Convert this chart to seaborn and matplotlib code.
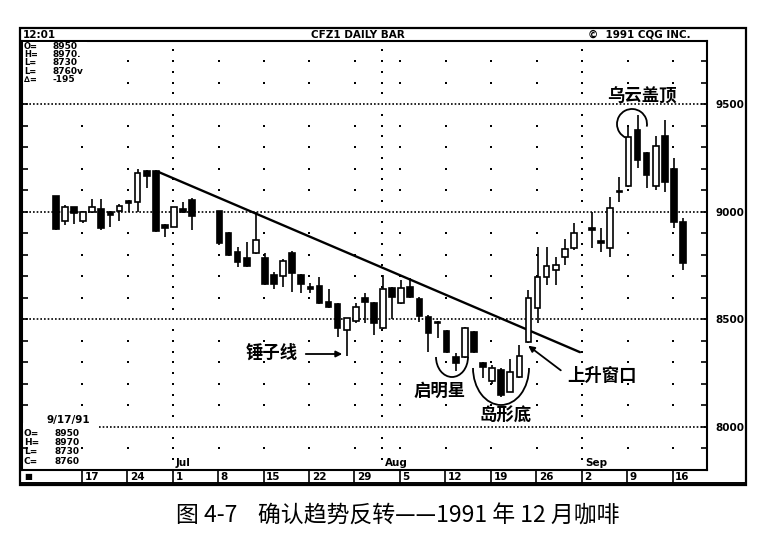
import numpy as np
import pandas as pd
import matplotlib
matplotlib.use("Agg")
import matplotlib.pyplot as plt
from matplotlib.patches import Arc, Rectangle
from matplotlib.ticker import MultipleLocator
from matplotlib.transforms import blended_transform_factory
import seaborn as sns

# trading-day slots, 0 = Mon 1 Jul 1991 (five slots a week, holidays left empty)
slot = list(range(-13, 3)) + list(range(5, 45)) + list(range(46, 57))
opens = [9073, 8958, 9020, 8958, 8997, 9011, 9000, 9003, 9051, 9047, 9191, 9191, 8938, 8930, 9012, 9054,
         9005, 8902, 8814, 8783, 8807, 8783, 8706, 8701, 8807, 8706, 8648, 8656, 8581, 8570, 8450,
         8493, 8597, 8577, 8458, 8644, 8574, 8648, 8593, 8512, 8488, 8447, 8326, 8326, 8442, 8298,
         8214, 8264, 8163, 8233, 8395, 8551, 8698, 8729, 8788, 8830,
         8923, 8864, 8830, 9098, 9121, 9380, 9272, 9119, 9352, 9197, 8950]
highs = [9075, 9030, 9022, 9005, 9059, 9058, 9003, 9035, 9055, 9199, 9195, 9195, 8942, 9023, 9044, 9065,
         9005, 8905, 8837, 8860, 9000, 8809, 8721, 8780, 8817, 8710, 8667, 8695, 8639, 8574, 8504,
         8574, 8620, 8580, 8706, 8648, 8682, 8690, 8602, 8519, 8491, 8450, 8341, 8465, 8445, 8302,
         8287, 8272, 8315, 8380, 8636, 8837, 8837, 8791, 8872, 8949,
         9000, 8923, 9070, 9163, 9399, 9450, 9279, 9352, 9426, 9248, 8970]
lows = [8915, 8938, 8943, 8946, 8995, 8915, 8930, 8958, 9000, 9000, 9109, 8905, 8881, 8928, 8993, 8915,
        8845, 8795, 8744, 8745, 8803, 8660, 8639, 8651, 8628, 8620, 8623, 8570, 8551, 8418, 8330,
        8481, 8481, 8427, 8455, 8500, 8570, 8598, 8488, 8349, 8411, 8345, 8260, 8320, 8345, 8225,
        8199, 8137, 8160, 8225, 8390, 8481, 8659, 8659, 8752, 8822,
        8830, 8814, 8788, 9047, 9116, 9202, 9109, 9101, 9093, 8923, 8730]
closes = [8918, 9023, 8995, 9000, 9023, 8923, 8985, 9026, 9039, 9181, 9166, 8910, 8926, 9020, 9000, 8980,
          8856, 8799, 8767, 8747, 8868, 8664, 8664, 8772, 8713, 8664, 8639, 8574, 8558, 8458, 8504,
          8555, 8579, 8481, 8639, 8605, 8644, 8602, 8515, 8437, 8481, 8349, 8295, 8458, 8349, 8276,
          8272, 8147, 8256, 8330, 8597, 8698, 8747, 8752, 8825, 8902,
          8915, 8853, 9016, 9090, 9349, 9240, 9171, 9305, 9140, 8953, 8760]

week_slot = [-10, -5, 0, 5, 10, 15, 20, 25, 30, 35, 40, 45, 50, 55]
week_label = ["17", "24", "1", "8", "15", "22", "29", "5", "12", "19", "26", "2", "9", "16"]
month_slot = [0, 23, 45]
month_label = ["Jul", "Aug", "Sep"]

trend_slot = [-1.76, 44.66]
trend_price = [9186, 8347]

price_ticks = [8000, 8500, 9000, 9500]

df = pd.DataFrame({"slot": slot, "open": opens, "high": highs, "low": lows, "close": closes})
df["up"] = df["close"] >= df["open"]
df["bottom"] = df[["open", "close"]].min(axis=1)
df["height"] = (df["close"] - df["open"]).abs().clip(lower=7)

sns.set_theme(style="white", rc={"axes.edgecolor": "black", "text.color": "black",
                                 "ytick.color": "black", "xtick.color": "black"})
plt.rcParams["font.family"] = ["DejaVu Sans"]
cjk = ["Noto Sans CJK SC", "DejaVu Sans"]

W, H = 778, 535
fig = plt.figure(figsize=(W / 100, H / 100), dpi=100)

# price panel, pixel box (22,41)-(707,470)
ax = fig.add_axes([22 / W, 1 - 470 / H, (707 - 22) / W, (470 - 41) / H], zorder=1)
# overlay in pixel units for frame, captions and notes
fr = fig.add_axes([0, 0, 1, 1], zorder=5)
fr.set_xlim(0, W)
fr.set_ylim(H, 0)
fr.axis("off")
fr.patch.set_alpha(0)

# grid: dense lines every 500, sparse dots on week columns, denser on month starts
for p in price_ticks:
    ax.axhline(p, color="black", lw=1.2, ls=(0, (1, 1.2)), zorder=1)
levels = np.arange(7900, 9800, 100)
levels = levels[levels % 500 != 0]
for s in week_slot:
    if s in month_slot:
        continue
    ax.scatter(np.full(len(levels), s - 0.1), levels, s=3, color="black", marker="s", lw=0, zorder=1)
half = np.arange(7850, 9800, 50)
half = half[half % 500 != 0]
for s in month_slot:
    ax.scatter(np.full(len(half), s - 0.1), half, s=3, color="black", marker="s", lw=0, zorder=1)

# candles
ax.vlines(df["slot"], df["low"], df["high"], color="black", lw=1.2, zorder=3)
ax.bar(df["slot"], df["height"], bottom=df["bottom"], width=0.62,
       color=np.where(df["up"], "white", "black"), edgecolor="black", lw=1.2, zorder=4)

sns.lineplot(x=trend_slot, y=trend_price, ax=ax, color="black", lw=1.7, zorder=2)

ax.set_xlim(-16.72, 58.64)
ax.set_ylim(7799, 9794)
ax.set_xticks([])
ax.set_yticks(price_ticks)
ax.set_yticklabels([str(p) for p in price_ticks], fontsize=7.5, fontweight="bold")
ax.yaxis.set_minor_locator(MultipleLocator(100))
ax.tick_params(axis="y", which="both", direction="in", left=True, right=True,
               labelleft=False, labelright=True, length=4, width=1.2, pad=6)
for sp in ax.spines.values():
    sp.set_linewidth(1.5)
    sp.set_color("black")
ax.set_facecolor("white")

# outer frame, date strip
fr.add_patch(Rectangle((20, 28), 726, 457, fill=False, lw=1.6, ec="black"))
fr.plot([20, 746], [483, 483], color="black", lw=1.4)
blend = blended_transform_factory(ax.transData, fr.transData)
for s, lab in zip(week_slot, week_label):
    fr.plot([s - 0.15, s - 0.15], [470, 483], color="black", lw=1.2, transform=blend)
    fr.text(s + 0.15, 477, lab, transform=blend, fontsize=7.5, fontweight="bold", va="center", ha="left")
fr.text(24, 477, "■", fontsize=6, va="center", ha="left")
for s, lab in zip(month_slot, month_label):
    fr.text(s + 0.2, 463, lab, transform=blend, fontsize=7.5, fontweight="bold", va="center", ha="left")

# title strip
fr.text(23, 34.5, "12:01", fontsize=7.5, fontweight="bold", va="center", ha="left")
fr.text(358, 34.5, "CFZ1 DAILY BAR", fontsize=7.5, fontweight="bold", va="center", ha="center")
fr.text(588, 34.5, "©  1991 CQG INC.", fontsize=7.5, fontweight="bold", va="center", ha="left")

# top-left quote box
fr.add_patch(Rectangle((23, 42), 64, 42, color="white", lw=0))
for y, lab, val in zip([46.5, 54.7, 62.9, 71.1, 79.3], ["O=", "H=", "L=", "L=", "∆="],
                       ["8950", "8970.", "8730", "8760v", "-195"]):
    fr.text(24, y, lab, fontsize=6, fontweight="bold", va="center", ha="left")
    fr.text(53, y, val, fontsize=6.5, fontweight="bold", va="center", ha="left")

# bottom-left quote box
fr.add_patch(Rectangle((23, 423), 74, 6, color="white", lw=0))
fr.text(47, 420.5, "9/17/91", fontsize=7.5, fontweight="bold", va="center", ha="left")
for y, lab, val in zip([433, 442.5, 452, 461.5], ["O=", "H=", "L=", "C="],
                       ["8950", "8970", "8730", "8760"]):
    fr.text(24, y, lab, fontsize=6.5, fontweight="bold", va="center", ha="left")
    fr.text(55, y, val, fontsize=6.5, fontweight="bold", va="center", ha="left")

# pattern notes
note = dict(fontsize=12.5, fontweight="bold", family=cjk, va="center", ha="center")
fr.text(642, 97, "乌云盖顶", **note)
fr.add_patch(Arc((632, 124), 30, 30, theta1=115, theta2=370, lw=1.3, color="black"))
fr.text(272, 353, "锤子线", **note)
fr.annotate("", xy=(345, 354), xytext=(303, 354),
            arrowprops=dict(arrowstyle="-|>", color="black", lw=1.3, mutation_scale=9))
fr.text(440, 391, "启明星", **note)
fr.add_patch(Arc((452, 357), 32, 40, theta1=0, theta2=180, lw=1.3, color="black"))
fr.text(506, 415, "岛形底", **note)
fr.add_patch(Arc((501, 368), 56, 74, theta1=0, theta2=180, lw=1.3, color="black"))
fr.text(602, 376, "上升窗口", **note)
fr.annotate("", xy=(526, 344), xytext=(563, 372),
            arrowprops=dict(arrowstyle="-|>", color="black", lw=1.3, mutation_scale=9))

# caption
fr.text(398, 516, "图 4-7    确认趋势反转——1991 年 12 月咖啡", fontsize=16.5,
        family=cjk, va="center", ha="center")

fig.savefig("out.png", dpi=100)
